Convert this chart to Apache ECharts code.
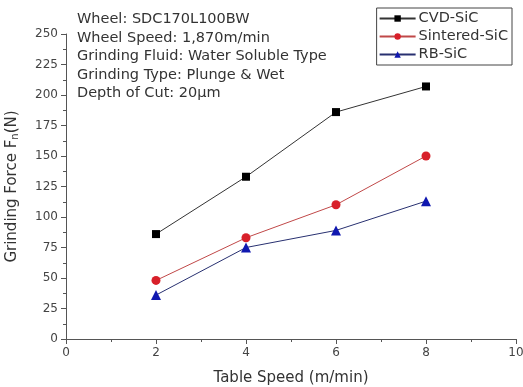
<!DOCTYPE html>
<html>
<head>
<meta charset="utf-8">
<script src="https://cdn.jsdelivr.net/npm/echarts@6/dist/echarts.min.js"></script>
<style>
  html, body { margin: 0; padding: 0; background: #fff; }
  #chart { width: 523px; height: 387px; }
</style>
</head>
<body>
<div id="chart"></div>
<script>
// table speed (m/min)
const speeds = [2, 4, 6, 8];
// grinding force Fn (N)
const cvdSic = [86, 133, 186, 207];
const sinteredSic = [48, 83, 110, 150];
const rbSic = [36, 75, 89, 113];
const notes = [
    'Wheel: SDC170L100BW',
    'Wheel Speed: 1,870m/min',
    'Grinding Fluid: Water Soluble Type',
    'Grinding Type: Plunge & Wet',
    'Depth of Cut: 20\u03bcm'
];

const pairs = arr => speeds.map((x, i) => [x, arr[i]]);

const chart = echarts.init(document.getElementById('chart'));
const axisGrey = '#555';
const font = 'DejaVu Sans, sans-serif';

const option = {
    animation: false,
    textStyle: { fontFamily: font },
    title: {
        text: notes.join('\n'),
        left: 72,
        top: 5,
        textStyle: {
            fontSize: 14.5,
            fontWeight: 'normal',
            color: '#333',
            lineHeight: 18.5,
            fontFamily: font
        }
    },
    legend: {
        orient: 'vertical',
        right: 11,
        top: 8,
        itemWidth: 36,
        itemHeight: 8,
        itemGap: 3,
        padding: [3, 4, 3, 2],
        borderColor: '#444',
        borderWidth: 1,
        borderRadius: 0,
        textStyle: { fontSize: 14.5, color: '#333', fontFamily: font, padding: [0, 0, 0, -2] },
        data: ['CVD-SiC', 'Sintered-SiC', 'RB-SiC']
    },
    grid: { left: 66, right: 7, top: 34, bottom: 48, containLabel: false, outerBoundsMode: 'none' },
    xAxis: {
        type: 'value',
        min: 0,
        max: 10,
        interval: 2,
        name: 'Table Speed (m/min)',
        nameLocation: 'middle',
        nameGap: 32,
        nameTextStyle: { fontSize: 15, color: '#333' },
        axisLine: { lineStyle: { color: axisGrey, width: 1 } },
        axisTick: { length: 5, lineStyle: { color: axisGrey } },
        minorTick: { show: true, splitNumber: 2, length: 3, lineStyle: { color: axisGrey } },
        axisLabel: { fontSize: 12, color: '#444', margin: 8 },
        splitLine: { show: false }
    },
    yAxis: {
        type: 'value',
        min: 0,
        max: 250,
        interval: 25,
        name: 'Grinding Force F{sub|n}(N)',
        nameLocation: 'middle',
        nameGap: 46,
        nameTextStyle: {
            fontSize: 15,
            color: '#333',
            rich: { sub: { fontSize: 10, verticalAlign: 'bottom', padding: [6, 0, 0, 0], color: '#333' } }
        },
        axisLine: { show: true, lineStyle: { color: axisGrey, width: 1 } },
        axisTick: { show: true, length: 5, lineStyle: { color: axisGrey } },
        minorTick: { show: true, splitNumber: 2, length: 3, lineStyle: { color: axisGrey } },
        axisLabel: { fontSize: 12, color: '#444', margin: 8 },
        splitLine: { show: false }
    },
    series: [
        {
            name: 'CVD-SiC',
            type: 'line',
            data: pairs(cvdSic),
            symbol: 'rect',
            symbolSize: 8,
            itemStyle: { color: '#000' },
            lineStyle: { color: '#333', width: 1 }
        },
        {
            name: 'Sintered-SiC',
            type: 'line',
            data: pairs(sinteredSic),
            symbol: 'circle',
            symbolSize: 9,
            itemStyle: { color: '#d8202a' },
            lineStyle: { color: '#c04848', width: 1 }
        },
        {
            name: 'RB-SiC',
            type: 'line',
            data: pairs(rbSic),
            symbol: 'triangle',
            symbolSize: 10,
            itemStyle: { color: '#1018b0' },
            lineStyle: { color: '#283070', width: 1 }
        }
    ]
};

chart.setOption(option);
</script>
</body>
</html>
